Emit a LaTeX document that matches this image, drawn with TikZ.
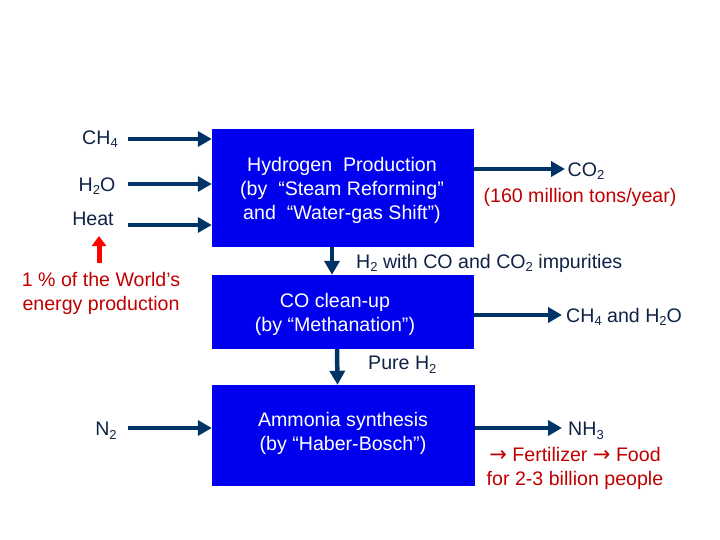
\documentclass[tikz,border=0pt]{standalone}
\usepackage{fontspec}
\setmainfont{Liberation Sans}
\newfontfamily\arrowfont{DejaVu Sans}
\usetikzlibrary{arrows.meta}
\definecolor{boxblue}{RGB}{0,0,238}
\definecolor{navy}{RGB}{0,51,102}
\definecolor{txtnavy}{RGB}{15,35,70}
\definecolor{darkred}{RGB}{192,0,0}
\newcommand\lowsub[1]{\raisebox{-0.35ex}{\fontsize{13}{13}\selectfont #1}}
\newcommand\rarr{{\arrowfont\fontsize{21}{21}\selectfont →}}
\tikzset{
  procbox/.style={fill=boxblue, draw=none, inner sep=0pt},
  boxtext/.style={text=white, align=center, inner sep=0pt},
  flow/.style={draw=navy, line width=4.5pt, -{Triangle[length=14pt,width=15pt]}},
  lbl/.style={text=txtnavy, inner sep=0pt},
  redlbl/.style={text=darkred, inner sep=0pt, align=center},
}
\begin{document}
\begin{tikzpicture}[x=1pt,y=-1pt, every node/.style={font=\fontsize{19.6}{24}\selectfont}]
\useasboundingbox (0,0) rectangle (720,540);
% boxes
\node[procbox, minimum width=262pt, minimum height=118pt] (b1) at (343,188) {};
\node[procbox, minimum width=262pt, minimum height=74pt] (b2) at (343,312) {};
\node[procbox, minimum width=263pt, minimum height=101pt] (b3) at (343.5,435.5) {};
\node[boxtext] (t1) at (342,190)
  {Hydrogen\ \ Production\\(by\ \ “Steam Reforming”\\and\ \ “Water-gas Shift”)};
\node[boxtext] (t2) at (335,314) {CO clean-up\\(by “Methanation”)};
\node[boxtext] (t3) at (343,433) {Ammonia synthesis\\(by “Haber-Bosch”)};
% input labels
\node[lbl] (ch4) at (100,139) {CH\lowsub{4}};
\node[lbl] (h2o) at (97,186) {H\lowsub{2}O};
\node[lbl] (heat) at (93,219) {Heat};
\node[lbl] (n2) at (106,431) {N\lowsub{2}};
\coordinate (c1) at (128,139);
\coordinate (c2) at (128,184);
\coordinate (c3) at (128,225);
\coordinate (c4) at (128,428);
\draw[flow] (c1) -- (b1.west |- c1);
\draw[flow] (c2) -- (b1.west |- c2);
\draw[flow] (c3) -- (b1.west |- c3);
\draw[flow] (c4) -- (b3.west |- c4);
% red note
\node[redlbl] (note) at (101,293) {1 \% of the World’s\\energy production};
\coordinate (r1) at (99,263);
\coordinate (r2) at (99,236);
\draw[draw=red, line width=5pt, -{Triangle[length=10pt,width=14pt]}, red] (r1) -- (r2);
% outputs
\coordinate (o1) at (565,169);
\draw[flow] (b1.east |- o1) -- (o1);
\node[lbl] (co2) at (586,171) {CO\lowsub{2}};
\node[redlbl] (mt) at (580,197) {(160 million tons/year)};
\coordinate (o2) at (562,315);
\draw[flow] (b2.east |- o2) -- (o2);
\node[lbl, anchor=west] (ch4h2o) at (566,317) {CH\lowsub{4} and H\lowsub{2}O};
\coordinate (o3) at (562,428);
\draw[flow] (b3.east |- o3) -- (o3);
\node[lbl] (nh3) at (586,431) {NH\lowsub{3}};
\node[redlbl] (food) at (575,468) {\rarr\ Fertilizer \rarr\ Food\\for 2-3 billion people};
% vertical flows
\draw[flow] ([xshift=-11pt]b1.south) -- ([xshift=-11pt]b2.north);
\node[lbl, anchor=west] (imp) at (356,263) {H\lowsub{2} with CO and CO\lowsub{2} impurities};
\draw[flow] ([xshift=-6pt]b2.south) -- ([xshift=-6pt]b3.north);
\node[lbl, anchor=west] (pure) at (368,365) {Pure H\lowsub{2}};
\end{tikzpicture}
\end{document}
